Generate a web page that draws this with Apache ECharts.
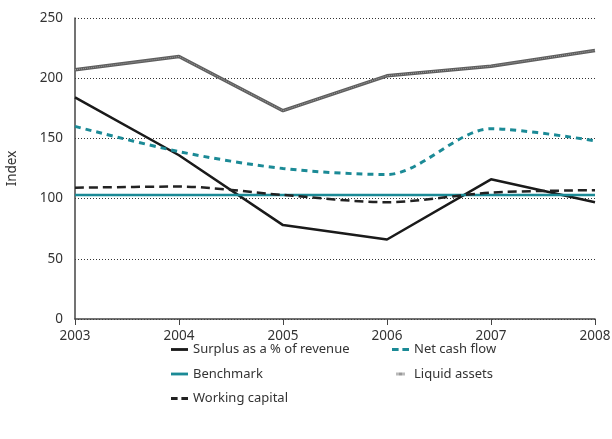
<!DOCTYPE html>
<html><head><meta charset="utf-8">
<script src="https://cdn.jsdelivr.net/npm/echarts@6/dist/echarts.min.js"></script>
<style>html,body{margin:0;padding:0;background:#fff}#c{width:612px;height:439px}</style>
</head><body><div id="c"></div>
<script>
var years = ['2003','2004','2005','2006','2007','2008'];
var surplus = [184, 136, 78, 66, 116, 97];
var netCash = [160, 139, 125, 120, 158, 148];
var benchmark = [103, 103, 103, 103, 103, 103];
var liquid = [207, 218, 173, 202, 210, 223];
var working = [109, 110, 103, 97, 105, 107];
var yTicks = [0, 50, 100, 150, 200, 250];

var FONT = 'Noto Sans';
var chart = echarts.init(document.getElementById('c'));
var txt = {fontFamily: FONT, fontSize: 13.5, color: '#333'};
var lg = {fontFamily: FONT, fontSize: 13, color: '#333'};
function line(name, data, color, width, type, smooth, z) {
  return {name: name, type: 'line', data: data, symbol: 'none', showSymbol: false, smooth: smooth ? 0.3 : false,
    lineStyle: {color: color, width: width, type: type}, itemStyle: {color: color}, z: z || 3, silent: true};
}
var solidIcon = 'path://M0,0h18v3h-18z';
var dashIcon = 'path://M0,0h7v3h-7z M11,0h7v3h-7z';
var stripeIcon = 'path://M0,0h1v5h-1z M2,0h1v5h-1z M4,0h1v5h-1z M6,0h1v5h-1z M8,0h1v5h-1z M10,0h1v5h-1z M12,0h1v5h-1z';
chart.setOption({
  animation: false,
  grid: {left: 75, right: 17, top: 18, bottom: 120, containLabel: false, outerBoundsMode: 'none'},
  xAxis: {type: 'category', data: years, boundaryGap: false,
    axisLine: {lineStyle: {color: '#444', width: 1.5}},
    axisTick: {show: true, length: 6, lineStyle: {color: '#444'}},
    axisLabel: Object.assign({margin: 10}, txt),
    splitLine: {show: false}},
  yAxis: {type: 'value', min: yTicks[0], max: yTicks[yTicks.length-1], interval: 50,
    name: 'Index', nameLocation: 'middle', nameGap: 56, nameRotate: 90,
    nameTextStyle: txt,
    axisLine: {show: true, lineStyle: {color: '#444', width: 1.5}},
    axisTick: {show: false},
    axisLabel: Object.assign({margin: 12}, txt),
    splitLine: {show: true, lineStyle: {color: '#333', type: [1, 2], width: 1}}},
  legend: [
    {orient: 'vertical', left: 166, top: 338, itemWidth: 17, itemHeight: 3, itemGap: 11.5,
     textStyle: lg, data: [
       {name: 'Surplus as a % of revenue', icon: solidIcon, itemStyle: {color: '#1a1a1a'}},
       {name: 'Benchmark', icon: solidIcon, itemStyle: {color: '#1b8a96'}},
       {name: 'Working capital', icon: dashIcon, itemStyle: {color: '#222'}}]},
    {orient: 'vertical', left: 387, top: 338, itemWidth: 17, itemHeight: 3, itemGap: 11.5,
     textStyle: lg, data: [
       {name: 'Net cash flow', icon: dashIcon, itemStyle: {color: '#1b8a96'}},
       {name: 'Liquid assets', icon: stripeIcon, itemStyle: {color: '#555'}}]}
  ],
  series: [
    line('Surplus as a % of revenue', surplus, '#1a1a1a', 2.5, 'solid', false),
    line('Net cash flow', netCash, '#1b8a96', 3, [6, 5], true),
    line('Benchmark', benchmark, '#1b8a96', 2.5, 'solid', false),
    line('Liquid assets', liquid, '#5e5e5e', 3.5, 'solid', false),
    line('', liquid, 'rgba(255,255,255,0.4)', 1, [1, 1], false, 4),
    line('Working capital', working, '#222222', 2.5, [9, 5], true)
  ]
});
</script></body></html>
